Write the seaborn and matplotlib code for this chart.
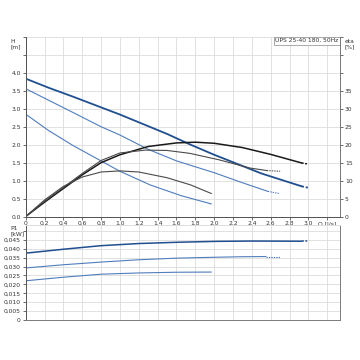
import matplotlib
matplotlib.use("Agg")
import matplotlib.pyplot as plt
import seaborn as sns
import numpy as np

# ---- data ----
q_ticks = [0, 0.2, 0.4, 0.6, 0.8, 1.0, 1.2, 1.4, 1.6, 1.8, 2.0, 2.2, 2.4, 2.6, 2.8, 3.0, 3.2]
q_tick_labels = ["0", "0.2", "0.4", "0.6", "0.8", "1.0", "1.2", "1.4", "1.6", "1.8", "2.0",
                 "2.2", "2.4", "2.6", "2.8", "3.0", "Q [l/s]"]
h_ticks = [0, 0.5, 1.0, 1.5, 2.0, 2.5, 3.0, 3.5, 4.0, 4.5, 5.0]
h_tick_labels = ["0.0", "0.5", "1.0", "1.5", "2.0", "2.5", "3.0", "3.5", "4.0", "", ""]
eta_ticks = [0, 5, 10, 15, 20, 25, 30, 35, 40, 45, 50]
eta_tick_labels = ["0", "5", "10", "15", "20", "25", "30", "35", "", "", ""]
p_ticks = [0, 0.005, 0.010, 0.015, 0.020, 0.025, 0.030, 0.035, 0.040, 0.045, 0.050]
p_tick_labels = ["0", "0,005", "0,010", "0,015", "0,020", "0,025", "0,030", "0,035", "0,040", "0,045", ""]

# head curves (m)
h1_q = [0, 0.25, 0.5, 0.75, 1.0, 1.25, 1.5, 1.75, 2.0, 2.25, 2.5, 2.75, 2.93]
h1 = [3.84, 3.58, 3.34, 3.09, 2.84, 2.57, 2.30, 2.00, 1.72, 1.46, 1.20, 0.99, 0.84]
h1_tail_q = [2.93, 3.0]
h1_tail = [0.84, 0.80]
h2_q = [0, 0.25, 0.5, 0.8, 1.0, 1.3, 1.6, 2.0, 2.3, 2.57]
h2 = [3.56, 3.23, 2.90, 2.50, 2.27, 1.87, 1.55, 1.22, 0.94, 0.70]
h2_tail_q = [2.57, 2.69]
h2_tail = [0.70, 0.64]
h3_q = [0, 0.24, 0.5, 0.75, 1.0, 1.32, 1.65, 1.97]
h3 = [2.85, 2.40, 1.98, 1.62, 1.26, 0.88, 0.58, 0.35]

# efficiency curves (%)
e1_q = [0, 0.2, 0.4, 0.6, 0.8, 1.0, 1.3, 1.6, 1.8, 2.0, 2.3, 2.6, 2.93]
e1 = [0, 4.0, 7.8, 11.6, 15.0, 17.2, 19.5, 20.5, 20.7, 20.4, 19.2, 17.3, 14.9]
e1_tail_q = [2.93, 3.0]
e1_tail = [14.9, 14.6]
e2_q = [0, 0.2, 0.4, 0.6, 0.8, 1.0, 1.27, 1.5, 1.74, 2.05, 2.38, 2.56]
e2 = [0, 4.3, 8.1, 12.0, 15.6, 17.7, 18.5, 18.4, 17.6, 15.8, 13.5, 12.8]
e2_tail_q = [2.56, 2.7]
e2_tail = [12.8, 12.6]
e3_q = [0, 0.2, 0.4, 0.6, 0.8, 1.0, 1.2, 1.5, 1.75, 1.97]
e3 = [0, 4.6, 8.4, 11.0, 12.4, 12.7, 12.4, 10.8, 8.8, 6.4]

# power curves (kW)
p1_q = [0, 0.4, 0.8, 1.2, 1.6, 2.0, 2.4, 2.93]
p1 = [0.0375, 0.0397, 0.0417, 0.0429, 0.0436, 0.0441, 0.0443, 0.0442]
p1_tail_q = [2.93, 3.0]
p1_tail = [0.0442, 0.0442]
p2_q = [0, 0.4, 0.8, 1.2, 1.6, 2.0, 2.3, 2.55]
p2 = [0.0292, 0.0310, 0.0325, 0.0338, 0.0347, 0.0352, 0.0355, 0.0356]
p2_tail_q = [2.55, 2.7]
p2_tail = [0.0356, 0.0356]
p3_q = [0, 0.4, 0.8, 1.2, 1.6, 1.97]
p3 = [0.0220, 0.0240, 0.0257, 0.0264, 0.0268, 0.0269]

title_text = "UPS 25-40 180, 50Hz"

# ---- styling ----
sns.set_theme(style="white")
plt.rcParams['font.family'] = ['DejaVu Sans']
FS = 4.3
GRID = "#dcdcdc"
DARK_BLUE = "#1f4f8f"
MID_BLUE = "#4f7dbd"
BLACK = "#1a1a1a"
GRAY = "#4a4a4a"
SPINE = "#7a7a7a"

fig = plt.figure(figsize=(3.6, 3.6), dpi=100)
ax = fig.add_axes([0.0714, 0.3986, 0.8730, 0.4986])
axp = fig.add_axes([0.0714, 0.1111, 0.8730, 0.2639])
axe = ax.twinx()

XMAX = 3.335

def line(a, x, y, color, lw, dashed=False):
    sns.lineplot(x=x, y=y, ax=a, color=color, linewidth=lw, sort=False, estimator=None,
                 linestyle=(0, (1.2, 1.0)) if dashed else "-")

# head
line(ax, h1_q, h1, DARK_BLUE, 1.3)
line(ax, h1_tail_q, h1_tail, DARK_BLUE, 1.3, True)
line(ax, h2_q, h2, MID_BLUE, 0.8)
line(ax, h2_tail_q, h2_tail, MID_BLUE, 0.8, True)
line(ax, h3_q, h3, MID_BLUE, 0.8)

# efficiency
line(axe, e1_q, e1, BLACK, 1.1)
line(axe, e1_tail_q, e1_tail, BLACK, 1.1, True)
line(axe, e2_q, e2, GRAY, 0.8)
line(axe, e2_tail_q, e2_tail, GRAY, 0.8, True)
line(axe, e3_q, e3, GRAY, 0.8)

# power
line(axp, p1_q, p1, DARK_BLUE, 1.1)
line(axp, p1_tail_q, p1_tail, DARK_BLUE, 1.1, True)
line(axp, p2_q, p2, MID_BLUE, 0.8)
line(axp, p2_tail_q, p2_tail, MID_BLUE, 0.8, True)
line(axp, p3_q, p3, MID_BLUE, 0.8)

# top axes
ax.set_xlim(0, XMAX)
ax.set_ylim(0, 5.0)
ax.set_xticks(q_ticks)
ax.set_xticklabels(q_tick_labels)
ax.set_yticks(h_ticks)
ax.set_yticklabels(h_tick_labels)
ax.set_xlabel("")
ax.set_ylabel("")
ax.grid(True, color=GRID, linewidth=0.6)
ax.set_axisbelow(True)
axe.set_ylim(0, 50)
axe.set_yticks(eta_ticks)
axe.set_yticklabels(eta_tick_labels)
axe.set_ylabel("")
axe.grid(False)

for a in (ax, axe):
    a.tick_params(axis="both", labelsize=FS, length=2, width=0.5, pad=1.5,
                  colors="#333333", direction="out")
ax.tick_params(axis="x", bottom=True)
ax.tick_params(axis="y", left=True)
axe.tick_params(axis="y", right=True)

for a in (ax, axe):
    a.spines["top"].set_visible(False)
    a.spines["left"].set_color("#555555")
    a.spines["bottom"].set_color("#555555")
    a.spines["right"].set_color(SPINE)
    for s in a.spines.values():
        s.set_linewidth(0.7)

# bottom axes
axp.set_xlim(0, XMAX)
axp.set_ylim(0, 0.0533)
axp.set_xticks(q_ticks)
axp.set_xticklabels([])
axp.set_yticks(p_ticks)
axp.set_yticklabels(p_tick_labels)
axp.set_xlabel("")
axp.set_ylabel("")
axp.grid(True, color=GRID, linewidth=0.6)
axp.set_axisbelow(True)
axp.tick_params(axis="both", labelsize=FS, length=2, width=0.5, pad=1.5,
                colors="#333333", direction="out")
axp.tick_params(axis="x", bottom=False, length=0)
axp.tick_params(axis="y", left=True)
axp.spines["top"].set_color(GRID)
axp.spines["left"].set_color("#555555")
axp.spines["bottom"].set_color(SPINE)
axp.spines["right"].set_color(SPINE)
for s in axp.spines.values():
    s.set_linewidth(0.7)

# axis captions
fig.text(0.028, 0.893, "H\n[m]", fontsize=FS, color="#333333", ha="left", va="top",
         linespacing=1.1)
fig.text(0.958, 0.893, "eta\n[%]", fontsize=FS, color="#333333", ha="left", va="top",
         linespacing=1.1)
fig.text(0.028, 0.372, "P1\n[kW]", fontsize=FS, color="#333333", ha="left", va="top",
         linespacing=1.1)

ax.text(0.995, 0.993, title_text, transform=ax.transAxes, fontsize=FS, color="#333333",
        ha="right", va="top",
        bbox=dict(boxstyle="square,pad=0.25", facecolor="white", edgecolor="#888888",
                  linewidth=0.5))

fig.savefig("out.png", dpi=100)
